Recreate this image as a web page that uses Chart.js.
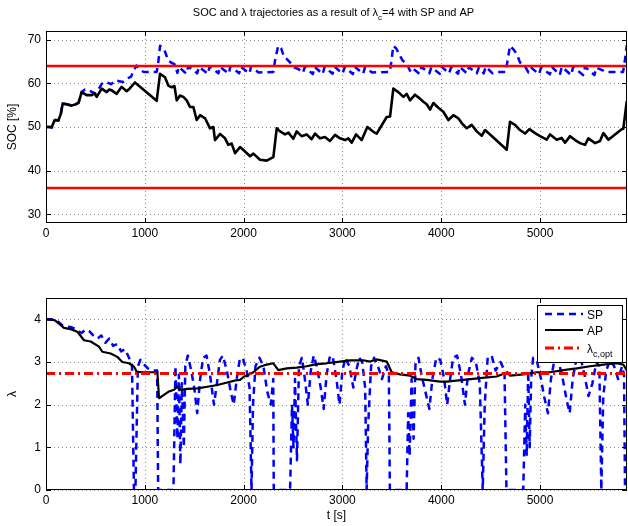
<!DOCTYPE html>
<html>
<head>
<meta charset="utf-8">
<script src="https://cdn.jsdelivr.net/npm/chart.js@4.4.1/dist/chart.umd.min.js"></script>
<style>
  html, body { margin: 0; padding: 0; background: #fff; }
  #wrap { position: relative; width: 628px; height: 526px; }
  canvas { position: absolute; left: 0; }
  #socCanvas { top: 0; }
  #lamCanvas { top: 263px; }
</style>
</head>
<body>
<div id="wrap">
  <canvas id="socCanvas" width="628" height="263"></canvas>
  <canvas id="lamCanvas" width="628" height="263"></canvas>
</div>
<script>
// ---- time axis ----
const tRange = [0, 5880];
const xTicks = [0, 1000, 2000, 3000, 4000, 5000];

// ---- SOC [%] ----
const socTicks = [30, 40, 50, 60, 70];
const socRange = [28, 72];
const socLimits = [36, 64];

const tSocAP = [0, 40, 57, 80, 91, 125, 150, 169, 209, 260, 300, 330, 361, 412, 462, 490, 513, 564, 614, 640, 665, 715, 766, 816, 850, 900,
  1120, 1154, 1204, 1238, 1272, 1300, 1323, 1356, 1390, 1424, 1457, 1491, 1525, 1559, 1610, 1660, 1694, 1710, 1761, 1812, 1845, 1879, 1913, 1964,
  2014, 2065, 2099, 2166, 2233, 2301, 2335, 2369, 2419, 2453, 2503, 2537, 2587, 2638, 2688, 2722, 2773, 2823, 2874, 2925, 2976,
  3026, 3060, 3094, 3138, 3195, 3252, 3313, 3347, 3448, 3482, 3515, 3566, 3617, 3650, 3684, 3735, 3785, 3819, 3853, 3887, 3920, 3971,
  4021, 4072, 4123, 4173, 4207, 4258, 4308, 4359, 4410, 4443, 4494, 4663, 4696, 4747, 4797, 4848, 4892, 4949,
  5000, 5068, 5101, 5169, 5219, 5253, 5304, 5354, 5405, 5455, 5489, 5557, 5607, 5641, 5692, 5759, 5826, 5843, 5877, 5880];
const socAP = [50.0, 50.0, 49.9, 51.2, 51.6, 51.5, 53.0, 55.4, 55.2, 54.9, 55.2, 55.6, 58.0, 57.3, 57.3, 57.7, 56.9, 58.8, 58.0, 58.6, 58.4, 57.6, 59.2, 58.2, 58.9, 60.2,
  56.0, 62.2, 61.4, 59.5, 59.1, 59.4, 56.1, 57.2, 56.9, 56.1, 54.6, 54.6, 51.6, 52.7, 52.0, 49.7, 50.0, 47.0, 48.4, 47.4, 45.9, 46.2, 44.0, 45.4,
  44.4, 43.3, 43.9, 42.5, 42.3, 43.1, 49.7, 49.0, 48.3, 48.7, 47.3, 49.0, 47.9, 48.3, 47.2, 48.5, 47.4, 47.7, 46.8, 48.2, 47.4,
  47.0, 47.4, 46.4, 48.3, 47.0, 50.0, 48.9, 48.5, 52.3, 52.4, 58.8, 58.0, 56.9, 57.6, 56.1, 57.4, 56.5, 55.8, 55.2, 54.0, 55.5, 54.4,
  53.5, 51.6, 52.7, 52.0, 50.9, 49.7, 50.5, 49.0, 48.0, 49.3, 48.3, 44.8, 51.2, 50.5, 49.3, 48.5, 49.5, 48.6,
  47.9, 47.1, 48.3, 47.1, 47.5, 46.4, 47.9, 47.0, 46.3, 45.9, 47.4, 46.3, 46.8, 48.6, 47.1, 48.3, 49.5, 49.6, 55.8, 56.0];

const tSocSP = [0, 40, 57, 80, 91, 125, 150, 169, 209, 260, 300, 330,
  361, 395, 430, 470, 500, 530, 564, 600, 630, 660, 700, 740, 780, 820, 860, 890, 915, 950, 990,
  1120, 1135, 1154, 1180, 1204, 1238, 1272, 1300, 1330, 1345, 1420, 1440, 1530, 1548, 1640, 1655, 1745, 1760, 1850, 1866, 1955, 1970,
  2060, 2075, 2150, 2300, 2320, 2350, 2380, 2410, 2440, 2470, 2503, 2554, 2600, 2620, 2700, 2720, 2800, 2820, 2900, 2922,
  3000, 3025, 3105, 3125, 3210, 3228, 3300, 3480, 3495, 3515, 3545, 3575, 3610, 3650, 3684, 3700, 3780, 3800, 3880, 3900, 3985,
  4004, 4080, 4100, 4170, 4185, 4260, 4280, 4360, 4380, 4430, 4450, 4520, 4570, 4650, 4670, 4696, 4730, 4765, 4797, 4848, 4882, 4910, 4990,
  5010, 5100, 5120, 5200, 5220, 5315, 5335, 5435, 5455, 5550, 5570, 5640, 5660, 5840, 5860, 5877, 5880];
const socSP = [50.0, 50.0, 49.9, 51.2, 51.6, 51.5, 53.0, 55.4, 55.2, 54.9, 55.2, 55.6,
  58.0, 58.6, 58.4, 58.0, 57.7, 58.6, 59.9, 60.4, 60.1, 59.8, 60.7, 60.5, 60.3, 61.1, 61.5, 63.0, 64.1, 63.1, 62.6,
  62.6, 64.5, 68.6, 68.2, 67.3, 65.2, 64.7, 64.4, 62.4, 63.8, 62.2, 63.9, 62.3, 63.8, 62.2, 63.9, 62.3, 63.8, 62.2, 63.9, 62.3, 63.8,
  62.3, 63.9, 62.5, 62.6, 65.5, 68.6, 68.0, 66.0, 65.5, 64.8, 63.7, 63.3, 62.4, 63.8, 62.1, 63.8, 62.1, 63.8, 62.2, 63.8,
  62.2, 63.8, 62.1, 63.8, 62.2, 63.7, 62.5, 62.6, 65.0, 68.6, 68.0, 66.6, 65.2, 64.6, 62.9, 63.6, 62.2, 63.8, 62.3, 63.7, 62.2,
  63.8, 62.3, 63.7, 62.2, 63.8, 62.3, 63.7, 62.3, 63.6, 62.3, 63.8, 62.3, 62.6, 62.6, 65.0, 68.6, 67.8, 66.7, 64.8, 63.9, 62.5, 63.6, 62.1,
  63.6, 62.1, 63.8, 61.9, 63.8, 61.9, 63.8, 61.9, 63.8, 61.9, 63.6, 62.9, 62.6, 62.6, 65.5, 68.6, 68.6];

// ---- lambda ----
const lamTicks = [0, 1, 2, 3, 4];
const lamRange = [0, 4.5];
const lamOpt = 2.73;

const tLamAP = [0, 87, 132, 182, 250, 317, 385, 452, 536, 570, 654, 722, 772, 840, 891, 918, 992, 1127, 1144, 1194, 1245, 1296, 1329, 1363, 1430,
  1532, 1633, 1734, 1835, 1919, 1964, 2004, 2031, 2098, 2166, 2233, 2301, 2351, 2436, 2537, 2638, 2739, 2840, 2976,
  3077, 3212, 3279, 3347, 3448, 3499, 3583, 3684, 3752, 3853, 3988, 4056, 4224, 4393, 4561, 4669, 4696, 4831, 4966,
  5101, 5236, 5371, 5506, 5641, 5776, 5843, 5877, 5880];
const lamAP = [4.0, 3.98, 3.9, 3.8, 3.77, 3.71, 3.51, 3.48, 3.36, 3.24, 3.2, 3.12, 3.0, 2.97, 2.89, 2.77, 2.76, 2.76, 2.15, 2.23, 2.31, 2.35, 2.42, 2.35, 2.37,
  2.38, 2.42, 2.46, 2.52, 2.57, 2.58, 2.66, 2.68, 2.76, 2.89, 2.94, 2.97, 2.81, 2.85, 2.87, 2.9, 2.95, 2.97, 3.01,
  3.04, 3.04, 3.01, 3.06, 3.01, 2.76, 2.71, 2.68, 2.6, 2.58, 2.54, 2.54, 2.58, 2.62, 2.66, 2.76, 2.68, 2.71, 2.76,
  2.76, 2.81, 2.85, 2.9, 2.94, 2.97, 2.94, 2.81, 2.8];

const tLamSP = [0, 60, 120, 170, 210, 250, 290, 330, 360, 400, 440, 480, 520, 560, 600, 640, 680, 720, 760, 800, 840, 870, 890, 905, 930, 955, 990,
  1030, 1080, 1125, 1135, 1290, 1310, 1330, 1345, 1360, 1375, 1395, 1410, 1435, 1470, 1500, 1530, 1560, 1590, 1625, 1660, 1700, 1730, 1760, 1790,
  1830, 1870, 1900, 1930, 1960, 1990, 2030, 2060, 2080, 2095, 2120, 2160, 2200, 2240, 2275, 2300, 2305, 2470, 2490, 2505, 2520, 2540, 2560,
  2590, 2620, 2650, 2680, 2710, 2740, 2780, 2810, 2840, 2870, 2900, 2940, 2970, 3000, 3030, 3070, 3110, 3140, 3170, 3200, 3230, 3245,
  3260, 3290, 3320, 3360, 3400, 3440, 3470, 3480, 3650, 3665, 3680, 3700, 3720, 3740, 3770, 3800, 3840, 3880, 3910, 3950, 3990,
  4030, 4060, 4090, 4120, 4160, 4200, 4240, 4270, 4310, 4350, 4390, 4420, 4440, 4470, 4510, 4550, 4600, 4640, 4660, 4830, 4850, 4865,
  4880, 4895, 4910, 4930, 4970, 5010, 5040, 5080, 5110, 5150, 5190, 5230, 5270, 5300, 5330, 5370, 5410, 5450, 5490, 5530, 5570, 5600,
  5620, 5640, 5670, 5710, 5750, 5790, 5830, 5850, 5860, 5880];
const lamSP = [4.0, 4.0, 3.95, 3.85, 3.83, 3.82, 3.78, 3.72, 3.68, 3.76, 3.72, 3.62, 3.55, 3.62, 3.45, 3.55, 3.38, 3.42, 3.25, 3.3, 3.1, 2.95, 0, 0, 2.9, 3.05, 2.95,
  2.85, 2.8, 2.8, 0, 0, 2.9, 1.2, 2.7, 0.6, 2.5, 1.0, 2.9, 3.15, 2.8, 2.4, 1.8, 2.6, 3.1, 3.15, 2.7, 2.0, 2.5, 3.05, 3.15,
  2.8, 2.3, 2.0, 2.6, 3.05, 3.1, 2.8, 2.4, 0, 2.0, 2.9, 3.1, 2.9, 2.3, 2.0, 2.6, 0, 0, 2.0, 1.0, 2.6, 0.7, 2.9,
  3.1, 2.6, 2.0, 2.8, 3.15, 2.9, 2.4, 1.9, 2.7, 3.1, 3.15, 2.6, 2.0, 2.8, 3.1, 2.9, 2.4, 2.8, 3.1, 3.0, 2.4, 0,
  1.5, 2.9, 3.1, 2.9, 2.6, 2.9, 2.7, 0, 0, 1.8, 0.8, 2.6, 1.2, 3.0, 3.1, 2.7, 2.3, 1.9, 2.6, 3.1, 3.05,
  2.6, 2.0, 2.6, 3.1, 3.15, 2.7, 2.0, 2.7, 3.1, 3.0, 2.5, 0, 2.0, 3.1, 3.15, 2.8, 3.0, 2.8, 0, 0, 2.0, 0.8,
  2.8, 1.0, 2.6, 3.1, 3.0, 2.6, 2.2, 1.8, 2.6, 3.1, 3.0, 2.6, 2.1, 1.8, 2.6, 3.1, 3.1, 2.7, 2.2, 2.5, 3.0, 2.9,
  0, 2.2, 2.8, 3.05, 2.9, 2.6, 2.9, 2.7, 0, 0];

// ---- helpers ----
const FONT = '"Liberation Sans", Arial, Helvetica, sans-serif';
const pts = (ts, vs) => ts.map((t, i) => ({ x: t, y: vs[i] }));
const flat = (v) => [{ x: tRange[0], y: v }, { x: tRange[1], y: v }];

// dotted grid, box frame and inward tick marks on all four sides
const framePlugin = {
  id: 'frame',
  beforeDatasetsDraw(chart) {
    const { ctx, chartArea: a, scales: { x, y } } = chart;
    ctx.save();
    ctx.strokeStyle = '#8a8a8a';
    ctx.lineWidth = 1;
    ctx.setLineDash([1, 3]);
    ctx.beginPath();
    x.ticks.forEach(tk => {
      const px = Math.round(x.getPixelForValue(tk.value)) + 0.5;
      ctx.moveTo(px, a.top); ctx.lineTo(px, a.bottom);
    });
    y.ticks.forEach(tk => {
      const py = Math.round(y.getPixelForValue(tk.value)) + 0.5;
      ctx.moveTo(a.left, py); ctx.lineTo(a.right, py);
    });
    ctx.stroke();
    ctx.restore();
  },
  afterDatasetsDraw(chart) {
    const { ctx, chartArea: a, scales: { x, y } } = chart;
    const len = 5;
    ctx.save();
    ctx.strokeStyle = '#000';
    ctx.lineWidth = 1;
    ctx.setLineDash([]);
    ctx.strokeRect(a.left + 0.5, a.top + 0.5, a.right - a.left - 1, a.bottom - a.top - 1);
    ctx.beginPath();
    x.ticks.forEach(tk => {
      const px = Math.round(x.getPixelForValue(tk.value)) + 0.5;
      ctx.moveTo(px, a.bottom); ctx.lineTo(px, a.bottom - len);
      ctx.moveTo(px, a.top); ctx.lineTo(px, a.top + len);
    });
    y.ticks.forEach(tk => {
      const py = Math.round(y.getPixelForValue(tk.value)) + 0.5;
      ctx.moveTo(a.left, py); ctx.lineTo(a.left + len, py);
      ctx.moveTo(a.right, py); ctx.lineTo(a.right - len, py);
    });
    ctx.stroke();
    ctx.restore();
  }
};

// text runs with optional subscripts
function drawRuns(ctx, runs, x, y, size, align) {
  const subSize = Math.round(size * 0.75);
  const w = runs.reduce((s, r) => {
    ctx.font = (r.sub ? subSize : size) + 'px ' + FONT;
    return s + ctx.measureText(r.text).width;
  }, 0);
  let cx = align === 'center' ? x - w / 2 : x;
  ctx.textAlign = 'left';
  ctx.textBaseline = 'alphabetic';
  runs.forEach(r => {
    ctx.font = (r.sub ? subSize : size) + 'px ' + FONT;
    ctx.fillText(r.text, cx, r.sub ? y + size * 0.35 : y);
    cx += ctx.measureText(r.text).width;
  });
}

const titlePlugin = {
  id: 'titleText',
  afterDraw(chart) {
    const { ctx, chartArea: a } = chart;
    ctx.save();
    ctx.fillStyle = '#000';
    drawRuns(ctx, [
      { text: 'SOC and λ trajectories as a result of λ' },
      { text: 'c', sub: true },
      { text: '=4 with SP and AP' }
    ], (a.left + a.right) / 2 - 3, 16, 11, 'center');
    ctx.restore();
  }
};

const legendPlugin = {
  id: 'lamLegend',
  afterDraw(chart) {
    const { ctx } = chart;
    const box = { l: 537, t: 42, r: 623, b: 100 };
    const rows = [
      { ds: 0, y: 51, runs: [{ text: 'SP' }] },
      { ds: 1, y: 67, runs: [{ text: 'AP' }] },
      { ds: 2, y: 85, runs: [{ text: 'λ' }, { text: 'c,opt', sub: true }] }
    ];
    ctx.save();
    ctx.fillStyle = '#fff';
    ctx.fillRect(box.l, box.t, box.r - box.l, box.b - box.t);
    ctx.strokeStyle = '#000';
    ctx.lineWidth = 1;
    ctx.strokeRect(box.l + 0.5, box.t + 0.5, box.r - box.l - 1, box.b - box.t - 1);
    rows.forEach(row => {
      const ds = chart.data.datasets[row.ds];
      ctx.strokeStyle = ds.borderColor;
      ctx.lineWidth = ds.borderWidth;
      ctx.setLineDash(ds.borderDash || []);
      ctx.beginPath();
      ctx.moveTo(545, row.y); ctx.lineTo(583, row.y);
      ctx.stroke();
      ctx.setLineDash([]);
      ctx.fillStyle = '#000';
      drawRuns(ctx, row.runs, 587, row.y + 4.5, 12, 'left');
    });
    ctx.restore();
  }
};

const plainLabel = v => String(v);

function xScale(showTitle) {
  return {
    type: 'linear',
    min: tRange[0], max: tRange[1],
    afterBuildTicks: s => { s.ticks = xTicks.map(v => ({ value: v })); },
    afterFit: s => { s.height = showTitle ? 36 : 40; },
    grid: { display: false, drawTicks: false },
    border: { display: false },
    ticks: { padding: 3, color: '#000', font: { size: 12, family: FONT }, maxRotation: 0, callback: plainLabel },
    title: { display: showTitle, text: 't [s]', color: '#000', font: { size: 12, family: FONT }, padding: { top: 0, bottom: 3 } }
  };
}

function yScale(range, ticks, label) {
  return {
    type: 'linear',
    min: range[0], max: range[1],
    afterBuildTicks: s => { s.ticks = ticks.map(v => ({ value: v })); },
    afterFit: s => { s.width = 46; },
    grid: { display: false, drawTicks: false },
    border: { display: false },
    ticks: { padding: 5, color: '#000', font: { size: 12, family: FONT }, callback: plainLabel },
    title: { display: true, text: label, color: '#000', font: { size: 12, family: FONT }, padding: { top: 5, bottom: 0 } }
  };
}

const common = {
  responsive: false,
  animation: false,
  events: [],
  elements: { point: { radius: 0 }, line: { tension: 0, borderJoinStyle: 'round' } },
  plugins: { legend: { display: false }, tooltip: { enabled: false }, title: { display: false } }
};

// SOC trajectories
new Chart(document.getElementById('socCanvas'), {
  type: 'line',
  data: {
    datasets: [
      { label: 'upper limit', data: flat(socLimits[1]), borderColor: '#ff0000', borderWidth: 2.5 },
      { label: 'lower limit', data: flat(socLimits[0]), borderColor: '#ff0000', borderWidth: 2.5 },
      { label: 'AP', data: pts(tSocAP, socAP), borderColor: '#000000', borderWidth: 2.6 },
      { label: 'SP', data: pts(tSocSP, socSP), borderColor: '#0000ff', borderWidth: 2.5, borderDash: [7, 5] }
    ]
  },
  options: Object.assign({}, common, {
    layout: { padding: { top: 31, right: 1, left: 0, bottom: 0 } },
    scales: { x: xScale(false), y: yScale(socRange, socTicks, 'SOC [%]') }
  }),
  plugins: [framePlugin, titlePlugin]
});

// lambda trajectories (legend order: SP, AP, lambda_c,opt)
new Chart(document.getElementById('lamCanvas'), {
  type: 'line',
  data: {
    datasets: [
      { label: 'SP', data: pts(tLamSP, lamSP), borderColor: '#0000ff', borderWidth: 2.5, borderDash: [7, 5], order: 3 },
      { label: 'AP', data: pts(tLamAP, lamAP), borderColor: '#000000', borderWidth: 2.2, order: 2 },
      { label: 'λc,opt', data: flat(lamOpt), borderColor: '#ff0000', borderWidth: 2.8, borderDash: [9, 4, 2, 4], order: 1 }
    ]
  },
  options: Object.assign({}, common, {
    layout: { padding: { top: 35, right: 1, left: 0, bottom: 0 } },
    scales: { x: xScale(true), y: yScale(lamRange, lamTicks, 'λ') }
  }),
  plugins: [framePlugin, legendPlugin]
});
</script>
</body>
</html>
